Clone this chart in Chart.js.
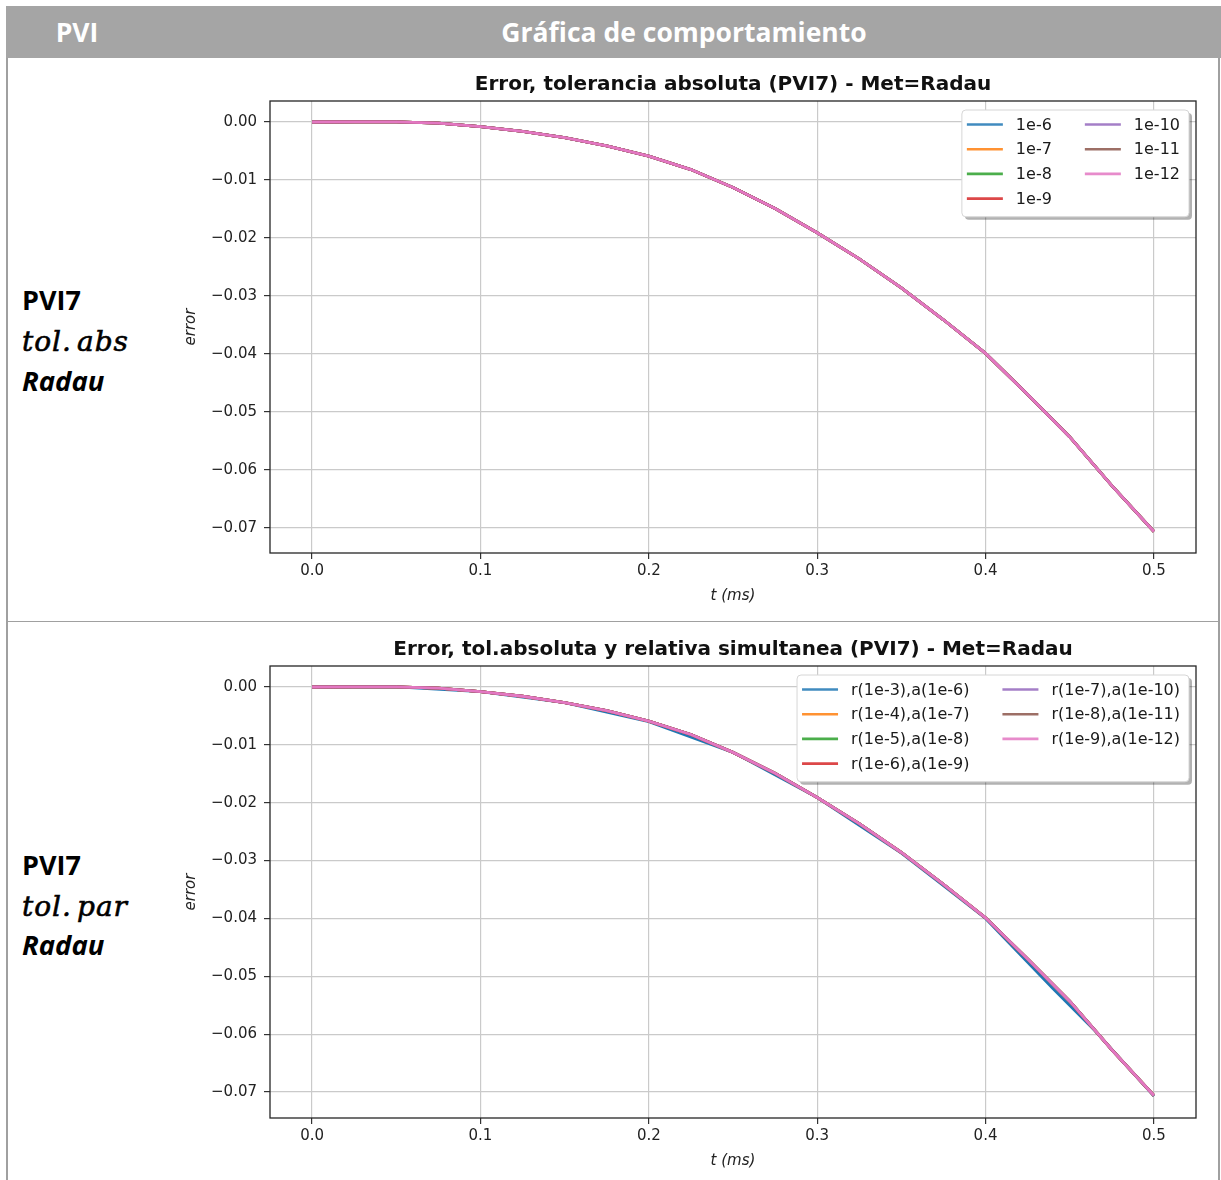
<!DOCTYPE html>
<html>
<head>
<meta charset="utf-8">
<script src="https://cdn.jsdelivr.net/npm/chart.js@4.4.1/dist/chart.umd.min.js"></script>
<style>
  html, body { margin: 0; padding: 0; background: #fff; overflow: hidden; }
  body { width: 1221px; height: 1180px; position: relative; font-family: "Open Sans", sans-serif; }
  .hdr { position: absolute; left: 6px; top: 6px; width: 1215px; height: 52px; background: #a5a5a5; }
  .hdr span { position: absolute; top: 0; line-height: 52px; color: #fff; font-weight: 700; font-size: 26.5px; transform: translateX(-50%); white-space: nowrap; }
  .linea { position: absolute; background: #a0a0a0; }
  .etq { position: absolute; left: 22px; white-space: nowrap; color: #000; }
  .pvi { font-weight: 700; font-size: 27px; }
  .mat { font-family: "DejaVu Serif", serif; font-style: italic; font-size: 28px; letter-spacing: 1px; -webkit-text-stroke: 0.6px #000; }
  .met { font-weight: 700; font-style: italic; font-size: 27.5px; }
  canvas { position: absolute; }
</style>
</head>
<body>
<div class="hdr">
  <span style="left:71px">PVI</span>
  <span style="left:678px">Gráfica de comportamiento</span>
</div>
<div class="linea" style="left:6px; top:58px; width:2px; height:1122px"></div>
<div class="linea" style="left:1218px; top:58px; width:2px; height:1122px"></div>
<div class="linea" style="left:6px; top:621px; width:1214px; height:1px"></div>

<div class="etq pvi" style="top:281px">PVI7</div>
<div class="etq mat" style="top:325px">tol.<span style="margin-left:5px">abs</span></div>
<div class="etq met" style="top:362px">Radau</div>

<div class="etq pvi" style="top:846px">PVI7</div>
<div class="etq mat" style="top:890px">tol.<span style="margin-left:5px">par</span></div>
<div class="etq met" style="top:926px">Radau</div>

<canvas id="gAbs" width="1045" height="560" style="left:170px; top:60px"></canvas>
<canvas id="gPar" width="1045" height="560" style="left:170px; top:625px"></canvas>

<script>
// tiempo (ms) y error de la solucion numerica
const tiempo = [0, 0.025, 0.05, 0.075, 0.1, 0.125, 0.15, 0.175, 0.2, 0.225, 0.25,
  0.275, 0.3, 0.325, 0.35, 0.375, 0.4, 0.425, 0.45, 0.475, 0.5];
const errorRadau = [0, 0.00003, 0.00002, -0.0002, -0.0008, -0.0016, -0.0027, -0.0041,
  -0.0059, -0.0082, -0.0113, -0.0149, -0.0191, -0.0236, -0.0286, -0.0341, -0.0399,
  -0.0470, -0.0543, -0.0627, -0.0706];

// rtol=1e-3 da pasos mas grandes, su curva se separa un poco al final
const tiempoR3 = [0, 0.05, 0.1, 0.15, 0.2, 0.25, 0.3, 0.35, 0.37, 0.4, 0.44, 0.465, 0.5];
const errorR3 = [0, 0.00002, -0.0008, -0.0027, -0.0060, -0.0113, -0.0191, -0.0287, -0.0332,
  -0.0400, -0.0521, -0.0594, -0.0707];

const tolAbs = ['1e-6', '1e-7', '1e-8', '1e-9', '1e-10', '1e-11', '1e-12'];
const tolPar = ['r(1e-3),a(1e-6)', 'r(1e-4),a(1e-7)', 'r(1e-5),a(1e-8)', 'r(1e-6),a(1e-9)',
  'r(1e-7),a(1e-10)', 'r(1e-8),a(1e-11)', 'r(1e-9),a(1e-12)'];
const colores = ['#1f77b4', '#ff7f0e', '#2ca02c', '#d62728', '#9467bd', '#8c564b', '#e377c2'];

const ticksX = [0, 0.1, 0.2, 0.3, 0.4, 0.5];
const ticksY = [0, -0.01, -0.02, -0.03, -0.04, -0.05, -0.06, -0.07];
const ejeX = { min: -0.025, max: 0.525 };
const ejeYAbs = { min: -0.07431, max: 0.00362 };
const ejeYPar = { min: -0.07449, max: 0.00363 };

const FUENTE = '"DejaVu Sans", sans-serif';
const menos = (v, d) => v.toFixed(d).replace('-', '\u2212');

function puntos(t, e) {
  return t.map((x, i) => ({ x: x, y: e[i] }));
}

// titulo centrado sobre el area de trazado, y marco de los 4 ejes
const marco = {
  id: 'marco',
  afterDatasetsDraw(chart, args, opts) {
    const a = chart.chartArea, ctx = chart.ctx;
    ctx.save();
    ctx.strokeStyle = '#262626';
    ctx.lineWidth = 1.3;
    ctx.strokeRect(a.left, a.top, a.right - a.left, a.bottom - a.top);
    ctx.fillStyle = '#111';
    ctx.font = 'bold 20px ' + FUENTE;
    ctx.textAlign = 'center';
    ctx.textBaseline = 'middle';
    ctx.fillText(opts.texto, (a.left + a.right) / 2, a.top - 16);
    ctx.restore();
  }
};

// leyenda en dos columnas, arriba a la derecha dentro del area
const leyenda = {
  id: 'leyenda',
  afterDraw(chart) {
    const ctx = chart.ctx, a = chart.chartArea;
    const items = chart.data.datasets;
    const filas = Math.ceil(items.length / 2);
    ctx.save();
    ctx.font = '16px ' + FUENTE;
    const ancho = lista => Math.max(...lista.map(d => ctx.measureText(d.label).width));
    const w1 = ancho(items.slice(0, filas)), w2 = ancho(items.slice(filas));
    const pad = 5, linea = 36, sep = 13, colSep = 33, altoFila = 24.7;
    const W = pad + linea + sep + w1 + colSep + linea + sep + w2 + 9;
    const H = filas * altoFila + 8;
    const x0 = a.right - 7 - W, y0 = a.top + 9;

    ctx.fillStyle = 'rgba(0,0,0,0.3)';
    ctx.beginPath(); ctx.roundRect(x0 + 3, y0 + 3, W, H, 4); ctx.fill();
    ctx.fillStyle = '#fff';
    ctx.strokeStyle = '#d6d6d6';
    ctx.lineWidth = 1;
    ctx.beginPath(); ctx.roundRect(x0, y0, W, H, 4); ctx.fill(); ctx.stroke();

    ctx.textBaseline = 'middle';
    ctx.fillStyle = '#1a1a1a';
    items.forEach((d, i) => {
      const col = i < filas ? 0 : 1;
      const fila = col ? i - filas : i;
      const x = x0 + pad + (col ? linea + sep + w1 + colSep : 0);
      const y = y0 + 14.5 + fila * altoFila;
      ctx.strokeStyle = d.borderColor;
      ctx.globalAlpha = 0.85;
      ctx.lineWidth = 2.6;
      ctx.beginPath(); ctx.moveTo(x, y); ctx.lineTo(x + linea, y); ctx.stroke();
      ctx.globalAlpha = 1;
      ctx.fillText(d.label, x + linea + sep, y + 1);
    });
    ctx.restore();
  }
};

function grafica(id, titulo, etiquetas, series, ejeY) {
  const datasets = etiquetas.map((lab, i) => ({
    label: lab,
    data: puntos(series[i][0], series[i][1]),
    borderColor: colores[i],
    backgroundColor: colores[i],
    borderWidth: 2.8,
    pointRadius: 0,
    tension: 0,
    fill: false,
    order: etiquetas.length - i   // la ultima serie queda encima
  }));

  return new Chart(document.getElementById(id), {
    type: 'line',
    data: { datasets: datasets },
    plugins: [marco, leyenda],
    options: {
      responsive: false,
      animation: false,
      layout: { padding: { right: 19, left: 0, top: 41, bottom: 0 } },
      plugins: {
        legend: { display: false },
        tooltip: { enabled: false },
        title: { display: false },
        marco: { texto: titulo }
      },
      scales: {
        x: {
          type: 'linear',
          min: ejeX.min,
          max: ejeX.max,
          bounds: 'data',
          afterFit: s => { s.height = 67; },
          afterBuildTicks: s => { s.ticks = ticksX.map(v => ({ value: v })); },
          grid: { color: '#cacaca', lineWidth: 1.2, tickColor: '#333', tickLength: 6, tickWidth: 1.2 },
          border: { display: false },
          ticks: {
            padding: 3,
            color: '#222',
            font: { family: FUENTE, size: 15 },
            callback: v => menos(v, 1)
          },
          title: {
            display: true,
            text: 't (ms)',
            color: '#222',
            font: { family: FUENTE, size: 15, style: 'italic' },
            padding: { top: 0, bottom: 15 }
          }
        },
        y: {
          type: 'linear',
          min: ejeY.min,
          max: ejeY.max,
          bounds: 'data',
          afterFit: s => { s.width = 100; },
          afterBuildTicks: s => { s.ticks = ticksY.map(v => ({ value: v })); },
          grid: { color: '#cacaca', lineWidth: 1.2, tickColor: '#333', tickLength: 6, tickWidth: 1.2 },
          border: { display: false },
          ticks: {
            padding: 7,
            color: '#222',
            font: { family: FUENTE, size: 15 },
            callback: v => menos(v, 2)
          },
          title: {
            display: true,
            text: 'error',
            color: '#222',
            font: { family: FUENTE, size: 15, style: 'italic' },
            padding: { top: 12, bottom: 0 }
          }
        }
      }
    }
  });
}

const seriesAbs = tolAbs.map(() => [tiempo, errorRadau]);
const seriesPar = tolPar.map((_, i) => i === 0 ? [tiempoR3, errorR3] : [tiempo, errorRadau]);

grafica('gAbs', 'Error, tolerancia absoluta (PVI7) - Met=Radau', tolAbs, seriesAbs, ejeYAbs);
grafica('gPar', 'Error, tol.absoluta y relativa simultanea (PVI7) - Met=Radau', tolPar, seriesPar, ejeYPar);
</script>
</body>
</html>
